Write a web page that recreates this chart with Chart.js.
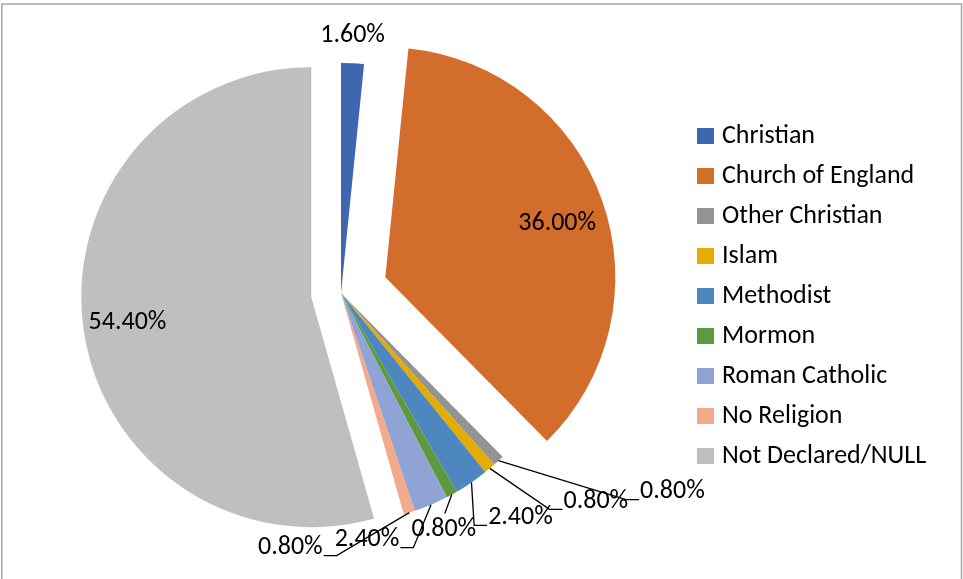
<!DOCTYPE html>
<html>
<head>
<meta charset="utf-8">
<script src="https://cdn.jsdelivr.net/npm/chart.js@4.4.1/dist/chart.umd.min.js"></script>
<style>
  html, body { margin: 0; padding: 0; background: #fff; }
  #chart { display: block; }
</style>
</head>
<body>
<canvas id="chart" width="963" height="579"></canvas>
<script>
const labels = ['Christian', 'Church of England', 'Other Christian', 'Islam', 'Methodist',
                'Mormon', 'Roman Catholic', 'No Religion', 'Not Declared/NULL'];
const shares = [1.6, 36.0, 0.8, 0.8, 2.4, 0.8, 2.4, 0.8, 54.4];
const colors = ['#3F67B1', '#D36D2B', '#939393', '#E5AC00', '#4E87C0',
                '#5F993E', '#8FA3D5', '#F2AA8A', '#BFBFBF'];

// how far each slice is pulled out of the pie, px
const explode = [0, 47, 0, 0, 0, 0, 0, 0, 30];
// where each % label sits, relative to the outer middle of its slice
const labelShift = [[0, -28], [-45, 23], [174, 31], [106, 33], [49, 35],
                    [-8, 35], [-64, 35], [-119, 35], [44, -6]];
const leaderSide = [null, null, 'right', 'right', 'right', 'top', 'left', 'left', null];

const fontFamily = 'Carlito, Calibri, Lato, sans-serif';
const labelFont = '26px ' + fontFamily;

const explodePlugin = {
    id: 'explode',
    beforeDatasetDraw(chart, args) {
        const ctx = chart.ctx;
        args.meta.data.forEach((arc, i) => {
            const p = arc.getProps(['startAngle', 'endAngle']);
            const mid = (p.startAngle + p.endAngle) / 2;
            ctx.save();
            ctx.translate(Math.cos(mid) * explode[i], Math.sin(mid) * explode[i]);
            arc.draw(ctx);
            ctx.restore();
        });
        return false;
    }
};

const pctLabels = {
    id: 'pctLabels',
    afterDatasetsDraw(chart) {
        const ctx = chart.ctx;
        const meta = chart.getDatasetMeta(0);
        ctx.save();
        ctx.font = labelFont;
        ctx.fillStyle = '#000';
        ctx.strokeStyle = '#000';
        ctx.lineWidth = 1.3;
        ctx.textAlign = 'center';
        ctx.textBaseline = 'middle';
        meta.data.forEach((arc, i) => {
            const p = arc.getProps(['x', 'y', 'startAngle', 'endAngle', 'outerRadius']);
            const mid = (p.startAngle + p.endAngle) / 2;
            const cx = p.x + Math.cos(mid) * explode[i];
            const cy = p.y + Math.sin(mid) * explode[i];
            const ax = cx + Math.cos(mid) * p.outerRadius;
            const ay = cy + Math.sin(mid) * p.outerRadius;
            const tx = ax + labelShift[i][0];
            const ty = ay + labelShift[i][1];
            const text = shares[i].toFixed(2) + '%';
            const w = ctx.measureText(text).width;
            const side = leaderSide[i];
            if (side) {
                ctx.beginPath();
                ctx.moveTo(ax, ay);
                if (side === 'right') {
                    const ex = tx - w / 2 - 1;
                    ctx.lineTo(ex - 13, ty + 8);
                    ctx.lineTo(ex, ty + 8);
                } else if (side === 'left') {
                    const ex = tx + w / 2 + 1;
                    ctx.lineTo(ex + 13, ty + 8);
                    ctx.lineTo(ex, ty + 8);
                } else {
                    ctx.lineTo(tx + 1, ty - 16);
                }
                ctx.stroke();
            }
            ctx.fillText(text, tx, ty);
        });
        ctx.restore();
    }
};

const sideLegend = {
    id: 'sideLegend',
    afterDraw(chart) {
        const ctx = chart.ctx;
        ctx.save();
        ctx.font = labelFont;
        ctx.textBaseline = 'middle';
        ctx.textAlign = 'left';
        labels.forEach((name, i) => {
            const y = 136 + i * 40;
            ctx.fillStyle = colors[i];
            ctx.fillRect(697, y - 8, 17, 16);
            ctx.fillStyle = '#000';
            ctx.fillText(name, 722, y);
        });
        ctx.restore();
    }
};

const frame = {
    id: 'frame',
    beforeDraw(chart) {
        const ctx = chart.ctx;
        ctx.save();
        ctx.fillStyle = '#fff';
        ctx.fillRect(0, 0, chart.width, chart.height);
        ctx.strokeStyle = '#A6A6A6';
        ctx.lineWidth = 1.5;
        ctx.strokeRect(1.8, 4, 959.7, 600);
        ctx.restore();
    }
};

new Chart(document.getElementById('chart').getContext('2d'), {
    type: 'pie',
    data: {
        labels: labels,
        datasets: [{
            data: shares,
            backgroundColor: colors,
            borderWidth: 0
        }]
    },
    options: {
        responsive: false,
        animation: false,
        radius: 230,
        layout: { padding: { left: 20, right: 301, top: 10, bottom: 3 } },
        plugins: {
            legend: { display: false },
            tooltip: { enabled: false }
        }
    },
    plugins: [frame, explodePlugin, pctLabels, sideLegend]
});
</script>
</body>
</html>
